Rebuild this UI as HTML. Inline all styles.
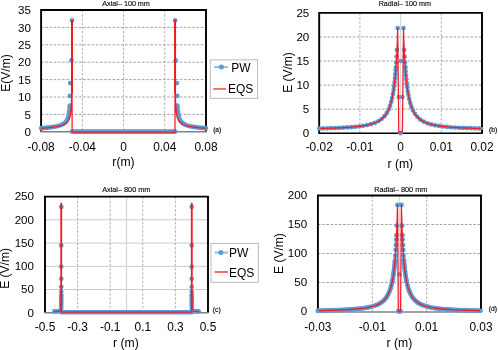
<!DOCTYPE html>
<html><head><meta charset="utf-8"><style>
html,body{margin:0;padding:0;background:#fff;width:498px;height:350px;overflow:hidden;position:relative}
text{font-family:"Liberation Sans", sans-serif}
svg{will-change:transform}
</style></head><body>
<svg width="498" height="350" viewBox="0 0 498 350" style="position:absolute;left:0;top:0">
<g font-family='"Liberation Sans", sans-serif' fill="#000">
<line x1="41.1" y1="114.4" x2="206" y2="114.4" stroke="#8c8c8c" stroke-width="0.8" stroke-dasharray="2.6,1.6"/>
<line x1="41.1" y1="97" x2="206" y2="97" stroke="#8c8c8c" stroke-width="0.8" stroke-dasharray="2.6,1.6"/>
<line x1="41.1" y1="79.6" x2="206" y2="79.6" stroke="#8c8c8c" stroke-width="0.8" stroke-dasharray="2.6,1.6"/>
<line x1="41.1" y1="62.2" x2="206" y2="62.2" stroke="#8c8c8c" stroke-width="0.8" stroke-dasharray="2.6,1.6"/>
<line x1="41.1" y1="44.8" x2="206" y2="44.8" stroke="#8c8c8c" stroke-width="0.8" stroke-dasharray="2.6,1.6"/>
<line x1="41.1" y1="27.4" x2="206" y2="27.4" stroke="#8c8c8c" stroke-width="0.8" stroke-dasharray="2.6,1.6"/>
<line x1="82.33" y1="10" x2="82.33" y2="131.8" stroke="#a0a0a0" stroke-width="0.8" stroke-dasharray="2.6,1.6"/>
<line x1="123.55" y1="10" x2="123.55" y2="131.8" stroke="#a0a0a0" stroke-width="0.8" stroke-dasharray="2.6,1.6"/>
<line x1="164.78" y1="10" x2="164.78" y2="131.8" stroke="#a0a0a0" stroke-width="0.8" stroke-dasharray="2.6,1.6"/>
<polyline points="41.1,131.8 41.1,10 206,10 206,131.8" fill="none" stroke="#000" stroke-width="1.9" stroke-linejoin="miter"/>
<line x1="40.3" y1="131.8" x2="206.8" y2="131.8" stroke="#808080" stroke-width="1.6"/>
<polyline points="41.1,128.16 42,128.1 42.9,128.03 43.81,127.96 44.71,127.89 45.61,127.81 46.51,127.72 47.41,127.64 48.31,127.54 49.22,127.44 50.12,127.34 51.02,127.23 51.92,127.1 52.82,126.97 53.73,126.83 54.63,126.68 55.53,126.51 56.43,126.33 57.33,126.12 58.23,125.9 59.14,125.65 60.04,125.36 60.94,125.04 61.84,124.67 62.74,124.23 64.29,123.26 65.84,121.84 66.87,120.42 67.9,118.2 68.41,116.52 68.93,114.05 69.44,109.95 69.75,105.66" fill="none" stroke="#5b9bd5" stroke-width="4.6" stroke-linejoin="round" stroke-linecap="round"/>
<polyline points="71.81,131.59 175.29,131.59" fill="none" stroke="#5b9bd5" stroke-width="4.6" stroke-linejoin="round" stroke-linecap="round"/>
<polyline points="177.35,105.66 177.66,109.95 178.17,114.05 178.69,116.52 179.2,118.2 180.23,120.42 181.27,121.84 182.81,123.26 184.36,124.23 185.26,124.67 186.16,125.04 187.06,125.36 187.96,125.65 188.87,125.9 189.77,126.12 190.67,126.33 191.57,126.51 192.47,126.68 193.37,126.83 194.28,126.97 195.18,127.1 196.08,127.23 196.98,127.34 197.88,127.44 198.79,127.54 199.69,127.64 200.59,127.72 201.49,127.81 202.39,127.89 203.29,127.96 204.2,128.03 205.1,128.1 206,128.16" fill="none" stroke="#5b9bd5" stroke-width="4.6" stroke-linejoin="round" stroke-linecap="round"/>
<circle cx="72.02" cy="20.44" r="2.35" fill="#5b9bd5"/>
<circle cx="71.4" cy="60.46" r="2.35" fill="#5b9bd5"/>
<circle cx="70.16" cy="83.08" r="2.35" fill="#5b9bd5"/>
<circle cx="69.85" cy="95.96" r="2.35" fill="#5b9bd5"/>
<circle cx="175.08" cy="20.44" r="2.35" fill="#5b9bd5"/>
<circle cx="175.7" cy="60.46" r="2.35" fill="#5b9bd5"/>
<circle cx="176.94" cy="83.08" r="2.35" fill="#5b9bd5"/>
<circle cx="177.25" cy="95.96" r="2.35" fill="#5b9bd5"/>
<polyline points="41.1,128.27 42.04,128.2 42.99,128.14 43.93,128.07 44.88,128 45.82,127.92 46.77,127.84 47.71,127.76 48.66,127.67 49.6,127.57 50.55,127.47 51.49,127.36 52.44,127.24 53.38,127.12 54.33,126.98 55.27,126.83 56.22,126.67 57.16,126.49 58.11,126.3 59.05,126.08 59.99,125.84 60.94,125.57 61.88,125.26 62.83,124.91 63.77,124.49 65.32,123.62 66.87,122.39 67.9,121.2 68.93,119.45 69.65,117.6 70.16,115.65 70.58,113.41 70.99,109.95 71.3,105.66 71.5,100.97 71.71,92.6 71.81,84.91 71.92,70.26 71.97,55.38 72.02,20.89 72.12,132.22 174.98,132.22 175.08,20.89 175.13,55.38 175.18,70.26 175.29,84.91 175.39,92.6 175.6,100.97 175.8,105.66 176.11,109.95 176.52,113.41 176.94,115.65 177.45,117.6 178.17,119.45 179.2,121.2 180.23,122.39 181.78,123.62 183.33,124.49 184.27,124.91 185.22,125.26 186.16,125.57 187.11,125.84 188.05,126.08 188.99,126.3 189.94,126.49 190.88,126.67 191.83,126.83 192.77,126.98 193.72,127.12 194.66,127.24 195.61,127.36 196.55,127.47 197.5,127.57 198.44,127.67 199.39,127.76 200.33,127.84 201.28,127.92 202.22,128 203.17,128.07 204.11,128.14 205.06,128.2 206,128.27" fill="none" stroke="#ee1c25" stroke-width="1.25" stroke-linejoin="round"/>
<line x1="72.02" y1="93.52" x2="72.02" y2="19.74" stroke="#ee1c25" stroke-width="2.0"/>
<line x1="175.08" y1="93.52" x2="175.08" y2="19.74" stroke="#ee1c25" stroke-width="2.0"/>
<text x="31" y="135.98" font-size="11.6" text-anchor="end" >0</text>
<text x="31" y="118.58" font-size="11.6" text-anchor="end" >5</text>
<text x="31" y="101.18" font-size="11.6" text-anchor="end" >10</text>
<text x="31" y="83.78" font-size="11.6" text-anchor="end" >15</text>
<text x="31" y="66.38" font-size="11.6" text-anchor="end" >20</text>
<text x="31" y="48.98" font-size="11.6" text-anchor="end" >25</text>
<text x="31" y="31.58" font-size="11.6" text-anchor="end" >30</text>
<text x="31" y="14.18" font-size="11.6" text-anchor="end" >35</text>
<text x="41.1" y="151" font-size="11.9" text-anchor="middle" >-0.08</text>
<text x="82.33" y="151" font-size="11.9" text-anchor="middle" >-0.04</text>
<text x="123.55" y="151" font-size="11.9" text-anchor="middle" >0</text>
<text x="164.78" y="151" font-size="11.9" text-anchor="middle" >0.04</text>
<text x="206" y="151" font-size="11.9" text-anchor="middle" >0.08</text>
<text x="123.5" y="166.3" font-size="12.2" text-anchor="middle" >r(m)</text>
<text x="9.8" y="73" font-size="12" text-anchor="middle" transform="rotate(-90 9.8 73)">E(V/m)</text>
<text x="126.1" y="6.2" font-size="7.2" text-anchor="middle" stroke="#000" stroke-width="0.12">Axial– 100 mm</text>
<text x="213.2" y="132" font-size="6.5" text-anchor="start" stroke="#000" stroke-width="0.15">(a)</text>
<line x1="319.2" y1="109.14" x2="482" y2="109.14" stroke="#8c8c8c" stroke-width="0.8" stroke-dasharray="2.6,1.6"/>
<line x1="319.2" y1="85.08" x2="482" y2="85.08" stroke="#8c8c8c" stroke-width="0.8" stroke-dasharray="2.6,1.6"/>
<line x1="319.2" y1="61.02" x2="482" y2="61.02" stroke="#8c8c8c" stroke-width="0.8" stroke-dasharray="2.6,1.6"/>
<line x1="319.2" y1="36.96" x2="482" y2="36.96" stroke="#8c8c8c" stroke-width="0.8" stroke-dasharray="2.6,1.6"/>
<line x1="359.9" y1="12.9" x2="359.9" y2="133.2" stroke="#a0a0a0" stroke-width="0.8" stroke-dasharray="2.6,1.6"/>
<line x1="441.3" y1="12.9" x2="441.3" y2="133.2" stroke="#a0a0a0" stroke-width="0.8" stroke-dasharray="2.6,1.6"/>
<line x1="400.6" y1="12.9" x2="400.6" y2="133.2" stroke="#d8d8d8" stroke-width="1.2"/>
<polyline points="319.2,133.2 319.2,12.9 482,12.9 482,133.2" fill="none" stroke="#000" stroke-width="1.9" stroke-linejoin="miter"/>
<line x1="318.4" y1="133.2" x2="482.8" y2="133.2" stroke="#000" stroke-width="1.6"/>
<polyline points="319.2,128.51 320.01,128.49 322.46,128.44 324.9,128.37 327.34,128.3 329.78,128.23 332.22,128.15 334.67,128.06 337.11,127.96 339.55,127.85 341.99,127.73 344.43,127.6 346.88,127.45 349.32,127.29 351.76,127.1 354.2,126.89 356.64,126.65 359.09,126.37 361.53,126.05 363.97,125.67 366.41,125.23 368.85,124.71 371.3,124.07 373.74,123.3 376.18,122.33 378.62,121.1 381.06,119.51 383.51,117.38 385.95,114.42 388.39,110.11 388.83,109.12 389.85,106.51 390.87,103.33 391.88,99.37 392.9,94.36 393.92,87.87 394.94,79.22 395.95,67.28" fill="none" stroke="#5b9bd5" stroke-width="2.8" stroke-linejoin="round" stroke-linecap="round"/>
<circle cx="319.2" cy="128.51" r="2.35" fill="#5b9bd5"/>
<circle cx="323.2" cy="128.42" r="2.35" fill="#5b9bd5"/>
<circle cx="327.2" cy="128.31" r="2.35" fill="#5b9bd5"/>
<circle cx="331.2" cy="128.18" r="2.35" fill="#5b9bd5"/>
<circle cx="335.19" cy="128.04" r="2.35" fill="#5b9bd5"/>
<circle cx="339.19" cy="127.87" r="2.35" fill="#5b9bd5"/>
<circle cx="343.18" cy="127.67" r="2.35" fill="#5b9bd5"/>
<circle cx="347.18" cy="127.43" r="2.35" fill="#5b9bd5"/>
<circle cx="351.17" cy="127.15" r="2.35" fill="#5b9bd5"/>
<circle cx="355.15" cy="126.8" r="2.35" fill="#5b9bd5"/>
<circle cx="359.13" cy="126.36" r="2.35" fill="#5b9bd5"/>
<circle cx="363.09" cy="125.81" r="2.35" fill="#5b9bd5"/>
<circle cx="367.03" cy="125.1" r="2.35" fill="#5b9bd5"/>
<circle cx="370.91" cy="124.17" r="2.35" fill="#5b9bd5"/>
<circle cx="374.71" cy="122.91" r="2.35" fill="#5b9bd5"/>
<circle cx="378.34" cy="121.24" r="2.35" fill="#5b9bd5"/>
<circle cx="381.64" cy="119" r="2.35" fill="#5b9bd5"/>
<circle cx="384.48" cy="116.2" r="2.35" fill="#5b9bd5"/>
<circle cx="386.78" cy="112.95" r="2.35" fill="#5b9bd5"/>
<circle cx="388.69" cy="109.44" r="2.35" fill="#5b9bd5"/>
<circle cx="390.11" cy="105.7" r="2.35" fill="#5b9bd5"/>
<circle cx="391.24" cy="101.86" r="2.35" fill="#5b9bd5"/>
<circle cx="392.17" cy="97.97" r="2.35" fill="#5b9bd5"/>
<circle cx="392.95" cy="94.05" r="2.35" fill="#5b9bd5"/>
<circle cx="393.57" cy="90.1" r="2.35" fill="#5b9bd5"/>
<circle cx="394.12" cy="86.14" r="2.35" fill="#5b9bd5"/>
<circle cx="394.59" cy="82.17" r="2.35" fill="#5b9bd5"/>
<circle cx="395.03" cy="78.19" r="2.35" fill="#5b9bd5"/>
<circle cx="395.36" cy="74.2" r="2.35" fill="#5b9bd5"/>
<circle cx="395.7" cy="70.22" r="2.35" fill="#5b9bd5"/>
<polyline points="405.25,67.28 406.26,79.22 407.28,87.87 408.3,94.36 409.32,99.37 410.33,103.33 411.35,106.51 412.37,109.12 412.81,110.11 415.25,114.42 417.69,117.38 420.14,119.51 422.58,121.1 425.02,122.33 427.46,123.3 429.9,124.07 432.35,124.71 434.79,125.23 437.23,125.67 439.67,126.05 442.11,126.37 444.56,126.65 447,126.89 449.44,127.1 451.88,127.29 454.32,127.45 456.77,127.6 459.21,127.73 461.65,127.85 464.09,127.96 466.53,128.06 468.98,128.15 471.42,128.23 473.86,128.3 476.3,128.37 478.74,128.44 481.19,128.49 482,128.51" fill="none" stroke="#5b9bd5" stroke-width="2.8" stroke-linejoin="round" stroke-linecap="round"/>
<circle cx="405.25" cy="67.28" r="2.35" fill="#5b9bd5"/>
<circle cx="405.58" cy="71.26" r="2.35" fill="#5b9bd5"/>
<circle cx="405.92" cy="75.25" r="2.35" fill="#5b9bd5"/>
<circle cx="406.26" cy="79.23" r="2.35" fill="#5b9bd5"/>
<circle cx="406.73" cy="83.2" r="2.35" fill="#5b9bd5"/>
<circle cx="407.2" cy="87.18" r="2.35" fill="#5b9bd5"/>
<circle cx="407.79" cy="91.13" r="2.35" fill="#5b9bd5"/>
<circle cx="408.44" cy="95.08" r="2.35" fill="#5b9bd5"/>
<circle cx="409.24" cy="99" r="2.35" fill="#5b9bd5"/>
<circle cx="410.22" cy="102.88" r="2.35" fill="#5b9bd5"/>
<circle cx="411.42" cy="106.69" r="2.35" fill="#5b9bd5"/>
<circle cx="412.96" cy="110.38" r="2.35" fill="#5b9bd5"/>
<circle cx="414.94" cy="113.86" r="2.35" fill="#5b9bd5"/>
<circle cx="417.39" cy="117.01" r="2.35" fill="#5b9bd5"/>
<circle cx="420.37" cy="119.66" r="2.35" fill="#5b9bd5"/>
<circle cx="423.8" cy="121.71" r="2.35" fill="#5b9bd5"/>
<circle cx="427.46" cy="123.3" r="2.35" fill="#5b9bd5"/>
<circle cx="431.3" cy="124.43" r="2.35" fill="#5b9bd5"/>
<circle cx="435.2" cy="125.31" r="2.35" fill="#5b9bd5"/>
<circle cx="439.15" cy="125.97" r="2.35" fill="#5b9bd5"/>
<circle cx="443.11" cy="126.48" r="2.35" fill="#5b9bd5"/>
<circle cx="447.09" cy="126.9" r="2.35" fill="#5b9bd5"/>
<circle cx="451.08" cy="127.23" r="2.35" fill="#5b9bd5"/>
<circle cx="455.07" cy="127.5" r="2.35" fill="#5b9bd5"/>
<circle cx="459.06" cy="127.73" r="2.35" fill="#5b9bd5"/>
<circle cx="463.06" cy="127.92" r="2.35" fill="#5b9bd5"/>
<circle cx="467.05" cy="128.08" r="2.35" fill="#5b9bd5"/>
<circle cx="471.05" cy="128.22" r="2.35" fill="#5b9bd5"/>
<circle cx="475.05" cy="128.34" r="2.35" fill="#5b9bd5"/>
<circle cx="479.05" cy="128.44" r="2.35" fill="#5b9bd5"/>
<circle cx="397.71" cy="28.07" r="2.35" fill="#5b9bd5"/>
<circle cx="396.98" cy="49.95" r="2.35" fill="#5b9bd5"/>
<circle cx="396.62" cy="56.69" r="2.35" fill="#5b9bd5"/>
<circle cx="396.28" cy="62.46" r="2.35" fill="#5b9bd5"/>
<circle cx="395.95" cy="67.28" r="2.35" fill="#5b9bd5"/>
<circle cx="403.49" cy="28.07" r="2.35" fill="#5b9bd5"/>
<circle cx="404.22" cy="49.95" r="2.35" fill="#5b9bd5"/>
<circle cx="404.58" cy="56.69" r="2.35" fill="#5b9bd5"/>
<circle cx="404.92" cy="62.46" r="2.35" fill="#5b9bd5"/>
<circle cx="405.25" cy="67.28" r="2.35" fill="#5b9bd5"/>
<circle cx="398.85" cy="97.11" r="2.35" fill="#5b9bd5"/>
<circle cx="402.35" cy="97.11" r="2.35" fill="#5b9bd5"/>
<circle cx="400.6" cy="133.2" r="2.35" fill="#5b9bd5"/>
<circle cx="400.8" cy="61.02" r="2.35" fill="#5b9bd5"/>
<polyline points="320.42,128.48 323.68,128.41 326.93,128.32 330.19,128.22 333.44,128.11 336.7,127.98 339.96,127.83 343.21,127.67 346.47,127.48 349.72,127.26 352.98,127 356.24,126.69 359.49,126.32 362.75,125.87 366,125.31 369.26,124.61 372.52,123.7 375.77,122.51 379.03,120.87 382.28,118.52 385.54,114.98 387.58,111.74 389.61,107.17 391.24,101.99 392.46,96.69 393.68,89.56 394.5,83.31 395.31,75.32 395.72,70.46 396.12,64.86 396.53,58.36 396.94,50.73 397.34,40.28 397.71,28.07 398.77,131.76 402.43,131.76 403.49,28.07 403.86,40.28 404.26,50.73 404.67,58.36 405.08,64.86 405.48,70.46 405.89,75.32 406.7,83.31 407.52,89.56 408.74,96.69 409.96,101.99 411.59,107.17 413.62,111.74 415.66,114.98 418.92,118.52 422.17,120.87 425.43,122.51 428.68,123.7 431.94,124.61 435.2,125.31 438.45,125.87 441.71,126.32 444.96,126.69 448.22,127 451.48,127.26 454.73,127.48 457.99,127.67 461.24,127.83 464.5,127.98 467.75,128.11 471.01,128.22 474.27,128.32 477.52,128.41 480.78,128.48" fill="none" stroke="#ee1c25" stroke-width="1.25" stroke-linejoin="round"/>
<text x="309.3" y="137.38" font-size="11.6" text-anchor="end" >0</text>
<text x="309.3" y="113.32" font-size="11.6" text-anchor="end" >5</text>
<text x="309.3" y="89.26" font-size="11.6" text-anchor="end" >10</text>
<text x="309.3" y="65.2" font-size="11.6" text-anchor="end" >15</text>
<text x="309.3" y="41.14" font-size="11.6" text-anchor="end" >20</text>
<text x="309.3" y="17.08" font-size="11.6" text-anchor="end" >25</text>
<text x="319.2" y="151.1" font-size="11.9" text-anchor="middle" >-0.02</text>
<text x="359.9" y="151.1" font-size="11.9" text-anchor="middle" >-0.01</text>
<text x="400.6" y="151.1" font-size="11.9" text-anchor="middle" >0</text>
<text x="441.3" y="151.1" font-size="11.9" text-anchor="middle" >0.01</text>
<text x="482" y="151.1" font-size="11.9" text-anchor="middle" >0.02</text>
<text x="400.3" y="167.5" font-size="12.2" text-anchor="middle" >r (m)</text>
<text x="292" y="72.5" font-size="12" text-anchor="middle" transform="rotate(-90 292 72.5)">E (V/m)</text>
<text x="404.8" y="6.3" font-size="7.2" text-anchor="middle" stroke="#000" stroke-width="0.12">Radial– 100 mm</text>
<text x="488.9" y="131.9" font-size="6.8" text-anchor="start" stroke="#000" stroke-width="0.15">(b)</text>
<line x1="45" y1="289.56" x2="208" y2="289.56" stroke="#bdbdbd" stroke-width="0.8"/>
<line x1="45" y1="266.32" x2="208" y2="266.32" stroke="#bdbdbd" stroke-width="0.8"/>
<line x1="45" y1="243.08" x2="208" y2="243.08" stroke="#bdbdbd" stroke-width="0.8"/>
<line x1="45" y1="219.84" x2="208" y2="219.84" stroke="#bdbdbd" stroke-width="0.8"/>
<line x1="77.6" y1="196.6" x2="77.6" y2="312.8" stroke="#a0a0a0" stroke-width="0.8" stroke-dasharray="2.6,1.6"/>
<line x1="110.2" y1="196.6" x2="110.2" y2="312.8" stroke="#a0a0a0" stroke-width="0.8" stroke-dasharray="2.6,1.6"/>
<line x1="142.8" y1="196.6" x2="142.8" y2="312.8" stroke="#a0a0a0" stroke-width="0.8" stroke-dasharray="2.6,1.6"/>
<line x1="175.4" y1="196.6" x2="175.4" y2="312.8" stroke="#a0a0a0" stroke-width="0.8" stroke-dasharray="2.6,1.6"/>
<line x1="126.5" y1="196.6" x2="126.5" y2="312.8" stroke="#d4d4d4" stroke-width="1.2"/>
<polyline points="45,312.8 45,196.6 208,196.6 208,312.8" fill="none" stroke="#000" stroke-width="1.9" stroke-linejoin="miter"/>
<line x1="44.2" y1="312.8" x2="208.8" y2="312.8" stroke="#808080" stroke-width="1.6"/>
<polyline points="54.29,311.36 58.04,311.27 59.67,311.13 60.48,310.85 60.89,310.48 61.06,309.78 61.14,308.62 61.17,306.76 61.2,303.5 61.23,298.86 61.25,295.6" fill="none" stroke="#5b9bd5" stroke-width="4.6" stroke-linejoin="round" stroke-linecap="round"/>
<polyline points="61.22,312.2 191.78,312.2" fill="none" stroke="#5b9bd5" stroke-width="4.6" stroke-linejoin="round" stroke-linecap="round"/>
<polyline points="191.75,295.6 191.77,298.86 191.8,303.5 191.83,306.76 191.86,308.62 191.94,309.78 192.11,310.48 192.52,310.85 193.33,311.13 194.96,311.27 198.71,311.36" fill="none" stroke="#5b9bd5" stroke-width="4.6" stroke-linejoin="round" stroke-linecap="round"/>
<circle cx="61.3" cy="206.92" r="2.35" fill="#5b9bd5"/>
<circle cx="61.29" cy="245.4" r="2.35" fill="#5b9bd5"/>
<circle cx="61.28" cy="266.69" r="2.35" fill="#5b9bd5"/>
<circle cx="61.28" cy="278.87" r="2.35" fill="#5b9bd5"/>
<circle cx="61.27" cy="286.77" r="2.35" fill="#5b9bd5"/>
<circle cx="61.26" cy="291.88" r="2.35" fill="#5b9bd5"/>
<circle cx="61.25" cy="295.6" r="2.35" fill="#5b9bd5"/>
<circle cx="191.7" cy="206.92" r="2.35" fill="#5b9bd5"/>
<circle cx="191.71" cy="245.4" r="2.35" fill="#5b9bd5"/>
<circle cx="191.72" cy="266.69" r="2.35" fill="#5b9bd5"/>
<circle cx="191.72" cy="278.87" r="2.35" fill="#5b9bd5"/>
<circle cx="191.73" cy="286.77" r="2.35" fill="#5b9bd5"/>
<circle cx="191.74" cy="291.88" r="2.35" fill="#5b9bd5"/>
<circle cx="191.75" cy="295.6" r="2.35" fill="#5b9bd5"/>
<polyline points="54.05,311.66 55.59,311.6 57.22,311.49 58.37,311.35 59.34,311.09 60,310.7 60.32,310.32 60.65,309.56 60.81,308.81 60.97,307.34 61.06,305.91 61.14,303.17 61.19,299.85 61.23,292.45 61.27,278.91 61.28,261.29 61.3,203.15 61.32,312.1 191.68,312.1 191.7,203.15 191.72,261.29 191.73,278.91 191.77,292.45 191.81,299.85 191.86,303.17 191.94,305.91 192.03,307.34 192.19,308.81 192.35,309.56 192.68,310.32 193,310.7 193.66,311.09 194.63,311.35 195.78,311.49 197.41,311.6 198.95,311.66" fill="none" stroke="#ee1c25" stroke-width="1.25" stroke-linejoin="round"/>
<line x1="61.3" y1="305.83" x2="61.3" y2="203.11" stroke="#ee1c25" stroke-width="1.7"/>
<line x1="191.7" y1="305.83" x2="191.7" y2="203.11" stroke="#ee1c25" stroke-width="1.7"/>
<text x="34" y="316.68" font-size="11.6" text-anchor="end" >0</text>
<text x="34" y="293.44" font-size="11.6" text-anchor="end" >50</text>
<text x="34" y="270.2" font-size="11.6" text-anchor="end" >100</text>
<text x="34" y="246.96" font-size="11.6" text-anchor="end" >150</text>
<text x="34" y="223.72" font-size="11.6" text-anchor="end" >200</text>
<text x="34" y="200.48" font-size="11.6" text-anchor="end" >250</text>
<text x="45" y="331.2" font-size="11.9" text-anchor="middle" >-0.5</text>
<text x="77.6" y="331.2" font-size="11.9" text-anchor="middle" >-0.3</text>
<text x="110.2" y="331.2" font-size="11.9" text-anchor="middle" >-0.1</text>
<text x="142.8" y="331.2" font-size="11.9" text-anchor="middle" >0.1</text>
<text x="175.4" y="331.2" font-size="11.9" text-anchor="middle" >0.3</text>
<text x="208" y="331.2" font-size="11.9" text-anchor="middle" >0.5</text>
<text x="125.9" y="346.8" font-size="12.2" text-anchor="middle" >r (m)</text>
<text x="8.6" y="268.4" font-size="12" text-anchor="middle" transform="rotate(-90 8.6 268.4)">E (V/m)</text>
<text x="126.3" y="191.6" font-size="7.3" text-anchor="middle" stroke="#000" stroke-width="0.12">Axial– 800 mm</text>
<text x="212.7" y="312.3" font-size="6.9" text-anchor="start" stroke="#000" stroke-width="0.15">(c)</text>
<line x1="317.9" y1="282.5" x2="481" y2="282.5" stroke="#8c8c8c" stroke-width="0.8" stroke-dasharray="2.6,1.6"/>
<line x1="317.9" y1="253.5" x2="481" y2="253.5" stroke="#8c8c8c" stroke-width="0.8" stroke-dasharray="2.6,1.6"/>
<line x1="317.9" y1="224.5" x2="481" y2="224.5" stroke="#8c8c8c" stroke-width="0.8" stroke-dasharray="2.6,1.6"/>
<line x1="372.27" y1="195.5" x2="372.27" y2="311.5" stroke="#a0a0a0" stroke-width="0.8" stroke-dasharray="2.6,1.6"/>
<line x1="426.63" y1="195.5" x2="426.63" y2="311.5" stroke="#a0a0a0" stroke-width="0.8" stroke-dasharray="2.6,1.6"/>
<line x1="399.45" y1="195.5" x2="399.45" y2="311.5" stroke="#d8d8d8" stroke-width="1.2"/>
<polyline points="317.9,312 317.9,195.5 481,195.5 481,312" fill="none" stroke="#000" stroke-width="1.9" stroke-linejoin="miter"/>
<line x1="317.1" y1="312" x2="481.8" y2="312" stroke="#808080" stroke-width="1.6"/>
<polyline points="317.9,310.68 318.17,310.67 320.35,310.63 322.52,310.58 324.7,310.53 326.87,310.47 329.05,310.42 331.22,310.35 333.39,310.28 335.57,310.21 337.74,310.13 339.92,310.04 342.09,309.95 344.27,309.84 346.44,309.72 348.62,309.6 350.79,309.46 352.97,309.3 355.14,309.12 357.32,308.92 359.49,308.7 361.67,308.44 363.84,308.15 366.01,307.81 368.19,307.42 370.36,306.95 372.54,306.4 374.71,305.73 376.89,304.91 379.06,303.88 381.24,302.57 383.41,300.85 385.59,298.53 387.76,295.24 389.94,290.34 390.25,289.42 390.93,287.22 391.61,284.63 392.29,281.54 392.97,277.83 393.65,273.29 394.33,267.64 395.01,260.46" fill="none" stroke="#5b9bd5" stroke-width="4.0" stroke-linejoin="round" stroke-linecap="round"/>
<circle cx="317.9" cy="310.68" r="2.45" fill="#5b9bd5"/>
<circle cx="320.6" cy="310.62" r="2.45" fill="#5b9bd5"/>
<circle cx="323.3" cy="310.56" r="2.45" fill="#5b9bd5"/>
<circle cx="326" cy="310.5" r="2.45" fill="#5b9bd5"/>
<circle cx="328.7" cy="310.42" r="2.45" fill="#5b9bd5"/>
<circle cx="331.4" cy="310.35" r="2.45" fill="#5b9bd5"/>
<circle cx="334.09" cy="310.26" r="2.45" fill="#5b9bd5"/>
<circle cx="336.79" cy="310.16" r="2.45" fill="#5b9bd5"/>
<circle cx="339.49" cy="310.06" r="2.45" fill="#5b9bd5"/>
<circle cx="342.19" cy="309.94" r="2.45" fill="#5b9bd5"/>
<circle cx="344.88" cy="309.81" r="2.45" fill="#5b9bd5"/>
<circle cx="347.58" cy="309.66" r="2.45" fill="#5b9bd5"/>
<circle cx="350.28" cy="309.49" r="2.45" fill="#5b9bd5"/>
<circle cx="352.97" cy="309.3" r="2.45" fill="#5b9bd5"/>
<circle cx="355.66" cy="309.07" r="2.45" fill="#5b9bd5"/>
<circle cx="358.35" cy="308.82" r="2.45" fill="#5b9bd5"/>
<circle cx="361.03" cy="308.52" r="2.45" fill="#5b9bd5"/>
<circle cx="363.71" cy="308.17" r="2.45" fill="#5b9bd5"/>
<circle cx="366.37" cy="307.75" r="2.45" fill="#5b9bd5"/>
<circle cx="369.03" cy="307.24" r="2.45" fill="#5b9bd5"/>
<circle cx="371.65" cy="306.62" r="2.45" fill="#5b9bd5"/>
<circle cx="374.25" cy="305.87" r="2.45" fill="#5b9bd5"/>
<circle cx="376.78" cy="304.95" r="2.45" fill="#5b9bd5"/>
<circle cx="379.22" cy="303.79" r="2.45" fill="#5b9bd5"/>
<circle cx="381.51" cy="302.36" r="2.45" fill="#5b9bd5"/>
<circle cx="383.6" cy="300.65" r="2.45" fill="#5b9bd5"/>
<circle cx="385.44" cy="298.68" r="2.45" fill="#5b9bd5"/>
<circle cx="386.96" cy="296.45" r="2.45" fill="#5b9bd5"/>
<circle cx="388.27" cy="294.1" r="2.45" fill="#5b9bd5"/>
<circle cx="389.36" cy="291.63" r="2.45" fill="#5b9bd5"/>
<circle cx="390.34" cy="289.12" r="2.45" fill="#5b9bd5"/>
<circle cx="391.11" cy="286.53" r="2.45" fill="#5b9bd5"/>
<circle cx="391.77" cy="283.91" r="2.45" fill="#5b9bd5"/>
<circle cx="392.34" cy="281.28" r="2.45" fill="#5b9bd5"/>
<circle cx="392.82" cy="278.62" r="2.45" fill="#5b9bd5"/>
<circle cx="393.25" cy="275.95" r="2.45" fill="#5b9bd5"/>
<circle cx="393.65" cy="273.28" r="2.45" fill="#5b9bd5"/>
<circle cx="393.97" cy="270.6" r="2.45" fill="#5b9bd5"/>
<circle cx="394.29" cy="267.92" r="2.45" fill="#5b9bd5"/>
<circle cx="394.56" cy="265.23" r="2.45" fill="#5b9bd5"/>
<circle cx="394.81" cy="262.55" r="2.45" fill="#5b9bd5"/>
<polyline points="403.89,260.46 404.57,267.64 405.25,273.29 405.93,277.83 406.61,281.54 407.29,284.63 407.97,287.22 408.65,289.42 408.96,290.34 411.14,295.24 413.31,298.53 415.49,300.85 417.66,302.57 419.84,303.88 422.01,304.91 424.19,305.73 426.36,306.4 428.54,306.95 430.71,307.42 432.89,307.81 435.06,308.15 437.23,308.44 439.41,308.7 441.58,308.92 443.76,309.12 445.93,309.3 448.11,309.46 450.28,309.6 452.46,309.72 454.63,309.84 456.81,309.95 458.98,310.04 461.16,310.13 463.33,310.21 465.51,310.28 467.68,310.35 469.85,310.42 472.03,310.47 474.2,310.53 476.38,310.58 478.55,310.63 480.73,310.67 481,310.68" fill="none" stroke="#5b9bd5" stroke-width="4.0" stroke-linejoin="round" stroke-linecap="round"/>
<circle cx="403.89" cy="260.46" r="2.45" fill="#5b9bd5"/>
<circle cx="404.15" cy="263.15" r="2.45" fill="#5b9bd5"/>
<circle cx="404.4" cy="265.84" r="2.45" fill="#5b9bd5"/>
<circle cx="404.68" cy="268.52" r="2.45" fill="#5b9bd5"/>
<circle cx="405" cy="271.2" r="2.45" fill="#5b9bd5"/>
<circle cx="405.34" cy="273.88" r="2.45" fill="#5b9bd5"/>
<circle cx="405.74" cy="276.55" r="2.45" fill="#5b9bd5"/>
<circle cx="406.18" cy="279.21" r="2.45" fill="#5b9bd5"/>
<circle cx="406.68" cy="281.87" r="2.45" fill="#5b9bd5"/>
<circle cx="407.26" cy="284.5" r="2.45" fill="#5b9bd5"/>
<circle cx="407.94" cy="287.12" r="2.45" fill="#5b9bd5"/>
<circle cx="408.74" cy="289.7" r="2.45" fill="#5b9bd5"/>
<circle cx="409.78" cy="292.18" r="2.45" fill="#5b9bd5"/>
<circle cx="410.88" cy="294.65" r="2.45" fill="#5b9bd5"/>
<circle cx="412.27" cy="296.96" r="2.45" fill="#5b9bd5"/>
<circle cx="413.87" cy="299.12" r="2.45" fill="#5b9bd5"/>
<circle cx="415.75" cy="301.06" r="2.45" fill="#5b9bd5"/>
<circle cx="417.89" cy="302.71" r="2.45" fill="#5b9bd5"/>
<circle cx="420.22" cy="304.06" r="2.45" fill="#5b9bd5"/>
<circle cx="422.68" cy="305.16" r="2.45" fill="#5b9bd5"/>
<circle cx="425.23" cy="306.05" r="2.45" fill="#5b9bd5"/>
<circle cx="427.83" cy="306.77" r="2.45" fill="#5b9bd5"/>
<circle cx="430.47" cy="307.37" r="2.45" fill="#5b9bd5"/>
<circle cx="433.12" cy="307.85" r="2.45" fill="#5b9bd5"/>
<circle cx="435.79" cy="308.25" r="2.45" fill="#5b9bd5"/>
<circle cx="438.47" cy="308.59" r="2.45" fill="#5b9bd5"/>
<circle cx="441.15" cy="308.88" r="2.45" fill="#5b9bd5"/>
<circle cx="443.84" cy="309.13" r="2.45" fill="#5b9bd5"/>
<circle cx="446.53" cy="309.34" r="2.45" fill="#5b9bd5"/>
<circle cx="449.23" cy="309.53" r="2.45" fill="#5b9bd5"/>
<circle cx="451.92" cy="309.69" r="2.45" fill="#5b9bd5"/>
<circle cx="454.62" cy="309.84" r="2.45" fill="#5b9bd5"/>
<circle cx="457.32" cy="309.97" r="2.45" fill="#5b9bd5"/>
<circle cx="460.01" cy="310.08" r="2.45" fill="#5b9bd5"/>
<circle cx="462.71" cy="310.19" r="2.45" fill="#5b9bd5"/>
<circle cx="465.41" cy="310.28" r="2.45" fill="#5b9bd5"/>
<circle cx="468.11" cy="310.36" r="2.45" fill="#5b9bd5"/>
<circle cx="470.81" cy="310.44" r="2.45" fill="#5b9bd5"/>
<circle cx="473.51" cy="310.51" r="2.45" fill="#5b9bd5"/>
<circle cx="476.21" cy="310.58" r="2.45" fill="#5b9bd5"/>
<circle cx="478.9" cy="310.63" r="2.45" fill="#5b9bd5"/>
<circle cx="397.49" cy="205.01" r="2.45" fill="#5b9bd5"/>
<circle cx="396.88" cy="225.66" r="2.45" fill="#5b9bd5"/>
<circle cx="396.51" cy="235.23" r="2.45" fill="#5b9bd5"/>
<circle cx="396.32" cy="239.58" r="2.45" fill="#5b9bd5"/>
<circle cx="396.04" cy="245.03" r="2.45" fill="#5b9bd5"/>
<circle cx="395.75" cy="250.02" r="2.45" fill="#5b9bd5"/>
<circle cx="395.37" cy="255.82" r="2.45" fill="#5b9bd5"/>
<circle cx="395.01" cy="260.46" r="2.45" fill="#5b9bd5"/>
<circle cx="401.41" cy="205.01" r="2.45" fill="#5b9bd5"/>
<circle cx="402.02" cy="225.66" r="2.45" fill="#5b9bd5"/>
<circle cx="402.39" cy="235.23" r="2.45" fill="#5b9bd5"/>
<circle cx="402.58" cy="239.58" r="2.45" fill="#5b9bd5"/>
<circle cx="402.86" cy="245.03" r="2.45" fill="#5b9bd5"/>
<circle cx="403.15" cy="250.02" r="2.45" fill="#5b9bd5"/>
<circle cx="403.53" cy="255.82" r="2.45" fill="#5b9bd5"/>
<circle cx="403.89" cy="260.46" r="2.45" fill="#5b9bd5"/>
<circle cx="398.36" cy="311.21" r="2.45" fill="#5b9bd5"/>
<circle cx="399.45" cy="311.5" r="2.45" fill="#5b9bd5"/>
<circle cx="400.54" cy="311.21" r="2.45" fill="#5b9bd5"/>
<circle cx="399.45" cy="274.38" r="2.45" fill="#5b9bd5"/>
<polyline points="318.72,310.66 321.43,310.6 324.15,310.54 326.87,310.47 329.59,310.4 332.31,310.32 335.03,310.23 337.74,310.13 340.46,310.02 343.18,309.89 345.9,309.75 348.62,309.6 351.34,309.42 354.05,309.21 356.77,308.98 359.49,308.7 362.21,308.37 364.93,307.99 367.65,307.52 370.36,306.95 373.08,306.24 375.8,305.34 378.52,304.16 381.24,302.57 383.96,300.34 386.67,297.04 389.39,291.77 390.75,287.83 392.11,282.41 393.2,276.4 394.01,270.41 394.56,265.42 395.1,259.32 395.64,251.77 396.19,242.21 396.46,236.44 396.73,229.82 397,222.17 397.28,213.26 397.49,205.01 398.31,311.33 400.59,311.33 401.41,205.01 401.62,213.26 401.9,222.17 402.17,229.82 402.44,236.44 402.71,242.21 403.26,251.77 403.8,259.32 404.34,265.42 404.89,270.41 405.7,276.4 406.79,282.41 408.15,287.83 409.51,291.77 412.23,297.04 414.94,300.34 417.66,302.57 420.38,304.16 423.1,305.34 425.82,306.24 428.54,306.95 431.25,307.52 433.97,307.99 436.69,308.37 439.41,308.7 442.13,308.98 444.85,309.21 447.56,309.42 450.28,309.6 453,309.75 455.72,309.89 458.44,310.02 461.16,310.13 463.87,310.23 466.59,310.32 469.31,310.4 472.03,310.47 474.75,310.54 477.47,310.6 480.18,310.66" fill="none" stroke="#ee1c25" stroke-width="1.25" stroke-linejoin="round"/>
<text x="307.2" y="315.18" font-size="11.6" text-anchor="end" >0</text>
<text x="307.2" y="286.18" font-size="11.6" text-anchor="end" >50</text>
<text x="307.2" y="257.18" font-size="11.6" text-anchor="end" >100</text>
<text x="307.2" y="228.18" font-size="11.6" text-anchor="end" >150</text>
<text x="307.2" y="199.18" font-size="11.6" text-anchor="end" >200</text>
<text x="317.9" y="330.6" font-size="11.9" text-anchor="middle" >-0.03</text>
<text x="372.27" y="330.6" font-size="11.9" text-anchor="middle" >-0.01</text>
<text x="426.63" y="330.6" font-size="11.9" text-anchor="middle" >0.01</text>
<text x="481" y="330.6" font-size="11.9" text-anchor="middle" >0.03</text>
<text x="399.4" y="346.6" font-size="12.2" text-anchor="middle" >r (m)</text>
<text x="283.2" y="253.6" font-size="12" text-anchor="middle" transform="rotate(-90 283.2 253.6)">E (V/m)</text>
<text x="400.8" y="191.6" font-size="7.3" text-anchor="middle" stroke="#000" stroke-width="0.12">Radial– 800 mm</text>
<text x="488.7" y="311.4" font-size="6.8" text-anchor="start" stroke="#000" stroke-width="0.15">(d)</text>
<rect x="210.3" y="59.9" width="47.30000000000001" height="38.4" fill="#fff" stroke="#b4b4b4" stroke-width="0.9"/>
<line x1="214" y1="67.1" x2="227.8" y2="67.1" stroke="#5b9bd5" stroke-width="1.3"/>
<circle cx="221.4" cy="67.1" r="2.5" fill="#5b9bd5"/>
<line x1="213.2" y1="88.9" x2="226" y2="88.9" stroke="#f07070" stroke-width="2.0"/>
<text x="231.2" y="71.8" font-size="12" text-anchor="start" >PW</text>
<text x="227.9" y="92.8" font-size="12" text-anchor="start" >EQS</text>
<rect x="211.0" y="243.4" width="47.30000000000001" height="38.900000000000006" fill="#fff" stroke="#b4b4b4" stroke-width="0.9"/>
<line x1="214.6" y1="252.6" x2="227.9" y2="252.6" stroke="#9dc3e6" stroke-width="2.2"/>
<circle cx="220.9" cy="252.6" r="2.5" fill="#5b9bd5"/>
<line x1="214.6" y1="272" x2="227.9" y2="272" stroke="#ee1c25" stroke-width="1.3"/>
<text x="229" y="257.1" font-size="12" text-anchor="start" >PW</text>
<text x="229" y="276.6" font-size="12" text-anchor="start" >EQS</text>
</g></svg>
</body></html>
